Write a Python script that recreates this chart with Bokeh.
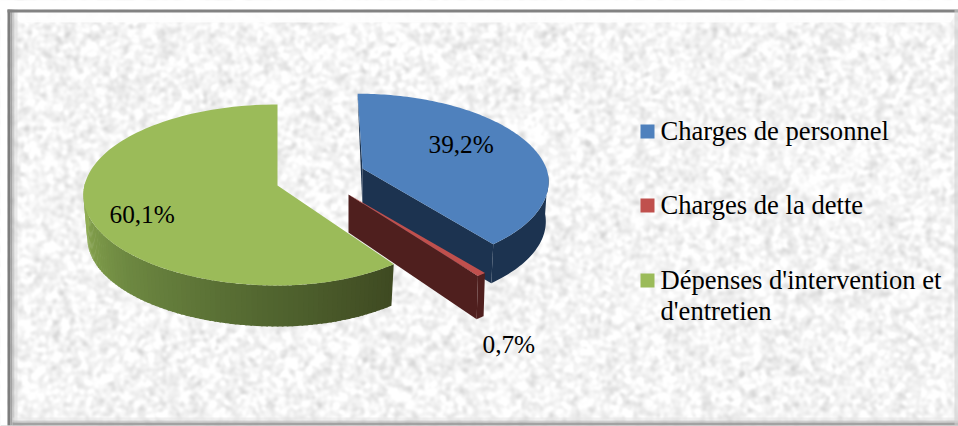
import numpy as np
from bokeh.plotting import figure
from bokeh.models import Range1d
from bokeh.core.properties import value
from bokeh.embed import file_html
from bokeh.resources import INLINE

# ---- data
categories = ["Charges de personnel", "Charges de la dette", "Dépenses d'intervention et"]
category_wrap = "d'entretien"
shares = [39.2, 0.7, 60.1]
colors_top = ["#4f81bd", "#c0504d", "#9bbb59"]
colors_wall = ["#1c3350", "#4f1f1e", "#3f4a22"]

# ---- layout in page pixels
W, H = 958, 426
p = figure(width=W, height=H, x_range=Range1d(0, W), y_range=Range1d(H, 0),
           output_backend="svg", toolbar_location=None, min_border=0,
           outline_line_color=None, background_fill_color=None, border_fill_color=None)
p.axis.visible = False
p.grid.visible = False
p.min_border_left = p.min_border_right = p.min_border_top = p.min_border_bottom = 0

# ---- paper-like backdrop: blurred grain texture (decoration only)
L, T, R, B = 7, 9, 958, 425
rng = np.random.default_rng(7)
g = rng.normal(size=(H, W))
fx = np.fft.fftfreq(W)[None, :]
fy = np.fft.fftfreq(H)[:, None]
soft = np.exp(-(fx**2 + fy**2) * 2 * (np.pi * 1.9)**2)
g = np.real(np.fft.ifft2(np.fft.fft2(g) * soft))
g = g / g.std()
lum = np.clip(245 + 8 * g, 215, 255)
rgba = np.zeros((H, W), dtype=np.uint32)
view = rgba.view(dtype=np.uint8).reshape((H, W, 4))
view[..., 0] = view[..., 1] = view[..., 2] = lum.astype(np.uint8)
view[..., 3] = 255
p.image_rgba(image=[rgba], x=0, y=0, dw=W, dh=H)

# ---- frame bevel
def band(xs, ys, c, a=1.0):
    p.patch(xs, ys, fill_color=c, fill_alpha=a, line_color=None)
band([0, W, W, 0], [0, 0, T, T], "#ffffff")
band([0, L, L, 0], [0, 0, H, H], "#ffffff")
band([L, R, R - 8, L + 12], [T, T, T + 13, T + 13], "#fefefe", 0.92)
for off, wid, col, alpha in [(0, 3, "#7d7d7d", 1.0), (3, 2, "#9a9a9a", 0.9), (5, 2, "#b8b8b8", 0.7), (7, 3, "#d8d8d8", 0.5)]:
    band([L + off, L + off + wid, L + off + wid, L + off], [T, T, B, B], col, alpha)
band([L, R, R, L], [T, T, T + 3, T + 3], "#828282")
for off, wid, col, alpha in [(0, 3, "#e4e4e4", 0.5), (3, 2, "#c4c4c4", 0.8), (5, 3, "#9d9d9d", 0.95)]:
    band([L + 5, R, R, L + 5], [B - 8 + off, B - 8 + off, B - 8 + off + wid, B - 8 + off + wid], col, alpha)
band([0, W, W, 0], [B, B, H, H], "#c8c8c8")
band([R - 4, R, R, R - 4], [T, T, B, B], "#d0d0d0", 0.6)

# ---- perspective pie helpers
def proj(th_deg, ax, ay, rx, ry, k, dy=0.0, shrink=1.0, right=1.0, shear=0.0):
    th = np.radians(th_deg)
    a, b = np.sin(th), -np.cos(th)
    s = 1 / (1 - k * b) * shrink
    x = rx * a * s
    y = ry * b * s
    x = np.where(x > 0, x * right, x)
    x = x + shear * np.minimum(y, 0)
    return ax + x, ay + y + dy

ends = np.cumsum(shares) / 100 * 360
starts = np.concatenate([[0], ends[:-1]])

def arc(i, ax, ay, rx, ry, k, dy=0.0, shrink=1.0, n=120, right=1.0, shear=0.0):
    t = np.linspace(starts[i], ends[i], n)
    return proj(t, ax, ay, rx, ry, k, dy, shrink, right, shear)

# green slice: shaded wall, then top
g_ax, g_ay, g_rx, g_ry, g_k, g_d, g_right = 277, 185, 193, 89.5, 0.105, 43, 0.93
stops = [0.0, 0.3, 0.65, 1.0]
ramp = [(0x3f, 0x4a, 0x22), (0x52, 0x66, 0x30), (0x6e, 0x89, 0x42), (0x93, 0xb1, 0x54)]
n_wall = 90
vis = np.linspace(starts[2], 272, n_wall)
for j in range(n_wall - 1):
    th0, th1 = vis[j], vis[j + 1] + 0.5
    x1, y1 = proj(th0, g_ax, g_ay, g_rx, g_ry, g_k, right=g_right)
    x2, y2 = proj(th1, g_ax, g_ay, g_rx, g_ry, g_k, right=g_right)
    x3, y3 = proj(th1, g_ax, g_ay, g_rx, g_ry, g_k, g_d, 0.98, right=g_right)
    x4, y4 = proj(th0, g_ax, g_ay, g_rx, g_ry, g_k, g_d, 0.98, right=g_right)
    f = j / (n_wall - 2)
    col = "#%02x%02x%02x" % tuple(int(np.interp(f, stops, [c[m] for c in ramp])) for m in range(3))
    p.patch(np.r_[x1, x2, x3, x4], np.r_[y1, y2, y3, y4], fill_color=col, line_color=None)
ax_, ay_ = arc(2, g_ax, g_ay, g_rx, g_ry, g_k, right=g_right)
p.patch(np.r_[g_ax, ax_], np.r_[g_ay, ay_], fill_color=colors_top[2], line_color=None)

# blue slice: wall, then top
b_ax, b_ay, b_rx, b_ry, b_k, b_d, b_shear = 362, 168, 184, 86, 0.15, 40, 0.065
ox, oy = arc(0, b_ax, b_ay, b_rx, b_ry, b_k, shear=b_shear)
ux, uy = arc(0, b_ax, b_ay, b_rx, b_ry, b_k, b_d, 0.985, shear=b_shear)
mask = oy > b_ay + 5
p.patch(np.r_[b_ax, ox[-1], ux[-1], b_ax], np.r_[b_ay, oy[-1], uy[-1], b_ay + b_d], fill_color=colors_wall[0], line_color=None)
p.patch(np.r_[ox[mask], ux[mask][::-1]], np.r_[oy[mask], uy[mask][::-1]], fill_color=colors_wall[0], line_color=None)
sx, sy = ox[0], oy[0]
p.patch(np.r_[sx, b_ax, b_ax, sx], np.r_[sy, b_ay, b_ay + b_d, sy + 2], fill_color=colors_wall[0], line_color=None)
p.patch(np.r_[b_ax, ox], np.r_[b_ay, oy], fill_color=colors_top[0], line_color=None)

# red slice: wall, then top
r_ax, r_ay, r_rx, r_ry, r_k, r_d = 348, 194, 192, 89, 0.15, 44
rx0, ry0 = arc(1, r_ax, r_ay, r_rx, r_ry, r_k, n=10)
rx1, ry1 = arc(1, r_ax, r_ay, r_rx, r_ry, r_k, r_d, 0.99, n=10)
p.patch(np.r_[r_ax, rx0[-1], rx1[-1], r_ax], np.r_[r_ay, ry0[-1], ry1[-1], r_ay + 38], fill_color=colors_wall[1], line_color=None)
p.patch(np.r_[rx0, rx1[::-1]], np.r_[ry0, ry1[::-1]], fill_color=colors_wall[1], line_color=None)
p.patch(np.r_[r_ax, rx0], np.r_[r_ay, ry0], fill_color=colors_top[1], line_color=None)

# ---- texts
serif = value("Liberation Serif")
def fmt(v):
    return f"{v:.1f}%".replace(".", ",")
lab_x = [428, 482, 109]
lab_y = [143, 343, 213]
p.text(x=lab_x, y=lab_y, text=[fmt(v) for v in shares], text_font=serif, text_font_size="25.3px",
       text_color="#000000", text_baseline="alphabetic", text_align="left")

leg_y = [138, 212, 287]
leg_text_y = [130, 204, 279, 310]
p.quad(left=[640] * 3, right=[654] * 3, top=[y - 14 for y in leg_y], bottom=leg_y,
       fill_color=colors_top, line_color=None)
p.text(x=[660] * 4, y=leg_text_y, text=categories + [category_wrap], text_font=serif,
       text_font_size="26.6px", text_color="#000000", text_baseline="alphabetic", text_align="left")

open("out.html", "w").write(file_html(p, INLINE))
